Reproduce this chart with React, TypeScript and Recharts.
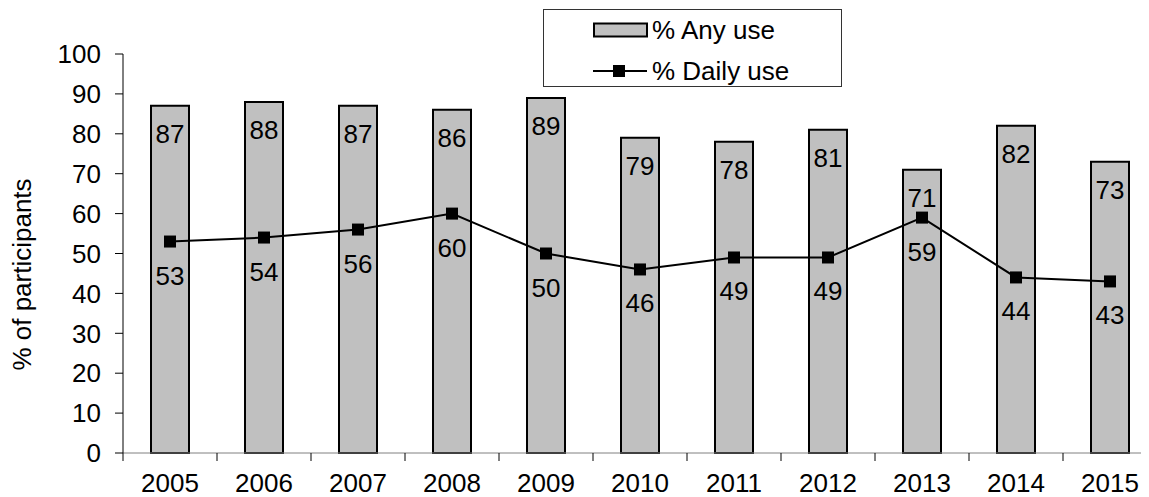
import { ComposedChart, Bar, Line, XAxis, YAxis, LabelList, Label } from 'recharts';

const years = ['2005', '2006', '2007', '2008', '2009', '2010', '2011', '2012', '2013', '2014', '2015'];
const anyUse = [87, 88, 87, 86, 89, 79, 78, 81, 71, 82, 73];
const dailyUse = [53, 54, 56, 60, 50, 46, 49, 49, 59, 44, 43];
const yTicks = [0, 10, 20, 30, 40, 50, 60, 70, 80, 90, 100];

const data = years.map((year, i) => ({ year, any: anyUse[i], daily: dailyUse[i] }));

const FONT = '"Liberation Sans", Arial, sans-serif';
const FS = 26;
const CHART_W = 1152;
const CHART_H = 489;
const MARGIN = { top: 46, right: 3, left: 0, bottom: 4 };
const Y_AXIS_W = 115;
const BAND = (CHART_W - MARGIN.right - MARGIN.left - Y_AXIS_W) / years.length;

const XTick = (props: any) => {
  const { x, y, payload, index } = props;
  const left = x - BAND / 2;
  return (
    <g>
      <line x1={left} y1={y} x2={left} y2={y + 8} stroke="#000" strokeWidth={1} />
      {index === years.length - 1 && (
        <line x1={x + BAND / 2} y1={y} x2={x + BAND / 2} y2={y + 8} stroke="#000" strokeWidth={1} />
      )}
      <text x={x} y={y + 30} textAnchor="middle" dominantBaseline="central" fontSize={FS} fontFamily={FONT} fill="#000">
        {payload.value}
      </text>
    </g>
  );
};

const SquareDot = (props: any) => {
  const { cx, cy } = props;
  if (cx == null || cy == null) return null;
  return <rect x={cx - 6} y={cy - 6} width={12} height={12} fill="#000" />;
};

const BarLabel = (props: any) => {
  const { x, y, width, value } = props;
  return (
    <text x={x + width / 2} y={y + 28} textAnchor="middle" dominantBaseline="central" fontSize={FS} fontFamily={FONT} fill="#000">
      {value}
    </text>
  );
};

const LineLabel = (props: any) => {
  const { x, y, value } = props;
  return (
    <text x={x} y={y + 34} textAnchor="middle" dominantBaseline="central" fontSize={FS} fontFamily={FONT} fill="#000">
      {value}
    </text>
  );
};

const YLabel = (props: any) => {
  const { viewBox } = props;
  const cx = viewBox.x + 14;
  const cy = viewBox.y + viewBox.height / 2 + 21;
  return (
    <text x={cx} y={cy} transform={`rotate(-90, ${cx}, ${cy})`} textAnchor="middle" dominantBaseline="central" fontSize={FS} fontFamily={FONT} fill="#000">
      % of participants
    </text>
  );
};

export default function App() {
  return (
    <div style={{ position: 'relative', width: 1141, height: CHART_H, overflow: 'hidden', fontFamily: FONT }}>
      <ComposedChart width={CHART_W} height={CHART_H} data={data} margin={MARGIN}>
        <XAxis
          dataKey="year"
          height={40}
          stroke="#808080"
          tickLine={false}
          tickSize={0}
          tickMargin={0}
          tick={<XTick />}
          interval={0}
        />
        <YAxis
          width={Y_AXIS_W}
          domain={[0, 100]}
          ticks={yTicks}
          interval={0}
          stroke="#000"
          tickSize={8}
          tickMargin={14}
          tick={{ fontSize: FS, fontFamily: FONT, fill: '#000' }}
        >
          <Label content={<YLabel />} />
        </YAxis>
        <Bar dataKey="any" barSize={38} fill="#c0c0c0" stroke="#000" strokeWidth={2} isAnimationActive={false}>
          <LabelList dataKey="any" content={<BarLabel />} />
        </Bar>
        <Line
          dataKey="daily"
          stroke="#000"
          strokeWidth={2}
          dot={<SquareDot />}
          activeDot={false}
          isAnimationActive={false}
        >
          <LabelList dataKey="daily" content={<LineLabel />} />
        </Line>
      </ComposedChart>
      <div
        style={{
          position: 'absolute',
          left: 535,
          top: 1,
          width: 297,
          height: 76,
          border: '1px solid #333',
          background: '#fff',
          fontSize: FS,
          color: '#000',
        }}
      >
        <div style={{ position: 'absolute', left: 49, top: 5, display: 'flex', alignItems: 'center', height: 30 }}>
          <svg width={56} height={16} style={{ marginRight: 3 }}>
            <rect x={1} y={1.5} width={53} height={13} fill="#c0c0c0" stroke="#000" strokeWidth={2} />
          </svg>
          <span>% Any use</span>
        </div>
        <div style={{ position: 'absolute', left: 49, top: 46, display: 'flex', alignItems: 'center', height: 30 }}>
          <svg width={56} height={16} style={{ marginRight: 3 }}>
            <line x1={0} y1={8} x2={54} y2={8} stroke="#000" strokeWidth={2} />
            <rect x={20} y={2} width={12} height={12} fill="#000" />
          </svg>
          <span>% Daily use</span>
        </div>
      </div>
    </div>
  );
}
